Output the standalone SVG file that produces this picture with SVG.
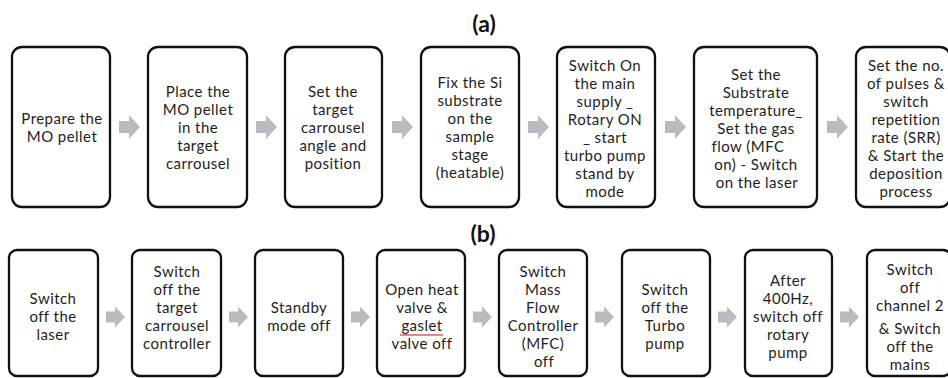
<svg xmlns="http://www.w3.org/2000/svg" xmlns:xlink="http://www.w3.org/1999/xlink" width="948" height="378" viewBox="0 0 948 378">
  <style>
    .box { fill: #ffffff; stroke: #111111; stroke-width: 2.3; }
    .t { font-family: Lato, "Open Sans", "Liberation Sans", sans-serif; font-size: 15px; letter-spacing: 0.45px; fill: #1e1e1e; text-anchor: middle; }
    .lbl { font-family: Lato, "Open Sans", "Liberation Sans", sans-serif; font-size: 23px; font-weight: bold; fill: #111111; text-anchor: middle; }
    .arr { fill: #b9bcbf; }
  </style>
  <defs>
    <!-- block arrows, origin at the left end of the shaft, vertically centred -->
    <path id="arrowTop" class="arr" d="M0,-6 H10 V-12 L21,0 L10,12 V6 H0 Z"/>
    <path id="arrowBot" class="arr" d="M0,-5.5 H9 V-10.5 L19,0 L9,10.5 V5.5 H0 Z"/>
  </defs>

  <rect width="948" height="378" fill="#ffffff"/>

  <!-- row titles -->
  <text class="lbl" x="484" y="32">(a)</text>
  <text class="lbl" x="483" y="242">(b)</text>

  <!-- connectors -->
  <g id="connectors">
    <use xlink:href="#arrowTop" x="119" y="127"/>
    <use xlink:href="#arrowTop" x="256" y="127"/>
    <use xlink:href="#arrowTop" x="392" y="127"/>
    <use xlink:href="#arrowTop" x="528" y="127"/>
    <use xlink:href="#arrowTop" x="665" y="127"/>
    <use xlink:href="#arrowTop" x="827" y="127"/>

    <use xlink:href="#arrowBot" x="106" y="317"/>
    <use xlink:href="#arrowBot" x="229" y="317"/>
    <use xlink:href="#arrowBot" x="351" y="317"/>
    <use xlink:href="#arrowBot" x="473" y="317"/>
    <use xlink:href="#arrowBot" x="595" y="317"/>
    <use xlink:href="#arrowBot" x="718" y="317"/>
    <use xlink:href="#arrowBot" x="840" y="317"/>
  </g>

  <!-- (a) start-up sequence -->
  <g id="a1">
    <rect class="box" x="12" y="47" width="98" height="160" rx="10"/>
    <text class="t" x="62" y="124">Prepare the</text>
    <text class="t" x="62" y="142">MO pellet</text>
  </g>
  <g id="a2">
    <rect class="box" x="148" y="47" width="99" height="160" rx="10"/>
    <text class="t" x="198" y="97">Place the</text>
    <text class="t" x="198" y="115">MO pellet</text>
    <text class="t" x="198" y="133">in the</text>
    <text class="t" x="198" y="151">target</text>
    <text class="t" x="198" y="169">carrousel</text>
  </g>
  <g id="a3">
    <rect class="box" x="285" y="47" width="97" height="160" rx="10"/>
    <text class="t" x="333" y="97">Set the</text>
    <text class="t" x="333" y="115">target</text>
    <text class="t" x="333" y="133">carrousel</text>
    <text class="t" x="333" y="151">angle and</text>
    <text class="t" x="333" y="169">position</text>
  </g>
  <g id="a4">
    <rect class="box" x="421" y="47" width="98" height="160" rx="10"/>
    <text class="t" x="470" y="88">Fix the Si</text>
    <text class="t" x="470" y="106">substrate</text>
    <text class="t" x="470" y="124">on the</text>
    <text class="t" x="470" y="142">sample</text>
    <text class="t" x="470" y="160">stage</text>
    <text class="t" x="470" y="178">(heatable)</text>
  </g>
  <g id="a5">
    <rect class="box" x="557" y="47" width="98" height="160" rx="10"/>
    <text class="t" x="605" y="71">Switch On</text>
    <text class="t" x="605" y="89">the main</text>
    <text class="t" x="605" y="107">supply _</text>
    <text class="t" x="605" y="125">Rotary ON</text>
    <text class="t" x="605" y="143">_ start</text>
    <text class="t" x="605" y="161">turbo pump</text>
    <text class="t" x="605" y="179">stand by</text>
    <text class="t" x="605" y="197">mode</text>
  </g>
  <g id="a6">
    <rect class="box" x="694" y="47" width="123" height="160" rx="10"/>
    <text class="t" x="756" y="80">Set the</text>
    <text class="t" x="756" y="98">Substrate</text>
    <text class="t" x="756" y="116">temperature_</text>
    <text class="t" x="756" y="134">Set the gas</text>
    <text class="t" x="748" y="152">flow (MFC</text>
    <text class="t" x="756" y="170">on) - Switch</text>
    <text class="t" x="757" y="188">on the laser</text>
  </g>
  <g id="a7">
    <rect class="box" x="856" y="47" width="94" height="160" rx="10"/>
    <text class="t" x="906" y="71">Set the no.</text>
    <text class="t" x="906" y="89">of pulses &amp;</text>
    <text class="t" x="906" y="107">switch</text>
    <text class="t" x="906" y="125">repetition</text>
    <text class="t" x="906" y="143">rate (SRR)</text>
    <text class="t" x="906" y="161">&amp; Start the</text>
    <text class="t" x="906" y="179">deposition</text>
    <text class="t" x="906" y="197">process</text>
  </g>

  <!-- (b) shut-down sequence -->
  <g id="b1">
    <rect class="box" x="9" y="250" width="89" height="126" rx="8"/>
    <text class="t" x="53" y="304">Switch</text>
    <text class="t" x="53" y="322">off the</text>
    <text class="t" x="53" y="340">laser</text>
  </g>
  <g id="b2">
    <rect class="box" x="132" y="250" width="89" height="126" rx="8"/>
    <text class="t" x="177" y="277">Switch</text>
    <text class="t" x="177" y="295">off the</text>
    <text class="t" x="177" y="313">target</text>
    <text class="t" x="177" y="331">carrousel</text>
    <text class="t" x="177" y="349">controller</text>
  </g>
  <g id="b3">
    <rect class="box" x="255" y="250" width="88" height="126" rx="8"/>
    <text class="t" x="299" y="313">Standby</text>
    <text class="t" x="299" y="331">mode off</text>
  </g>
  <g id="b4">
    <rect class="box" x="377" y="250" width="88" height="126" rx="8"/>
    <text class="t" x="422" y="295">Open heat</text>
    <text class="t" x="422" y="313">valve &amp;</text>
    <text class="t" x="422" y="331">gaslet</text>
    <text class="t" x="422" y="349">valve off</text>
    <line x1="400" y1="335" x2="443" y2="335" stroke="#e35d5d" stroke-width="1.3"/>
  </g>
  <g id="b5">
    <rect class="box" x="499" y="250" width="88" height="126" rx="8"/>
    <text class="t" x="543" y="277">Switch</text>
    <text class="t" x="543" y="295">Mass</text>
    <text class="t" x="543" y="313">Flow</text>
    <text class="t" x="543" y="331">Controller</text>
    <text class="t" x="543" y="349">(MFC)</text>
    <text class="t" x="544" y="367">off</text>
  </g>
  <g id="b6">
    <rect class="box" x="622" y="250" width="88" height="126" rx="8"/>
    <text class="t" x="665" y="295">Switch</text>
    <text class="t" x="665" y="313">off the</text>
    <text class="t" x="665" y="331">Turbo</text>
    <text class="t" x="665" y="349">pump</text>
  </g>
  <g id="b7">
    <rect class="box" x="745" y="250" width="87" height="126" rx="8"/>
    <text class="t" x="788" y="286">After</text>
    <text class="t" x="788" y="304">400Hz,</text>
    <text class="t" x="788" y="322">switch off</text>
    <text class="t" x="788" y="340">rotary</text>
    <text class="t" x="788" y="358">pump</text>
  </g>
  <g id="b8">
    <rect class="box" x="867" y="250" width="84" height="126" rx="8"/>
    <text class="t" x="910" y="275">Switch</text>
    <text class="t" x="910" y="293">off</text>
    <text class="t" x="910" y="311">channel 2</text>
    <text class="t" x="910" y="334">&amp; Switch</text>
    <text class="t" x="910" y="352">off the</text>
    <text class="t" x="910" y="370">mains</text>
  </g>
</svg>
